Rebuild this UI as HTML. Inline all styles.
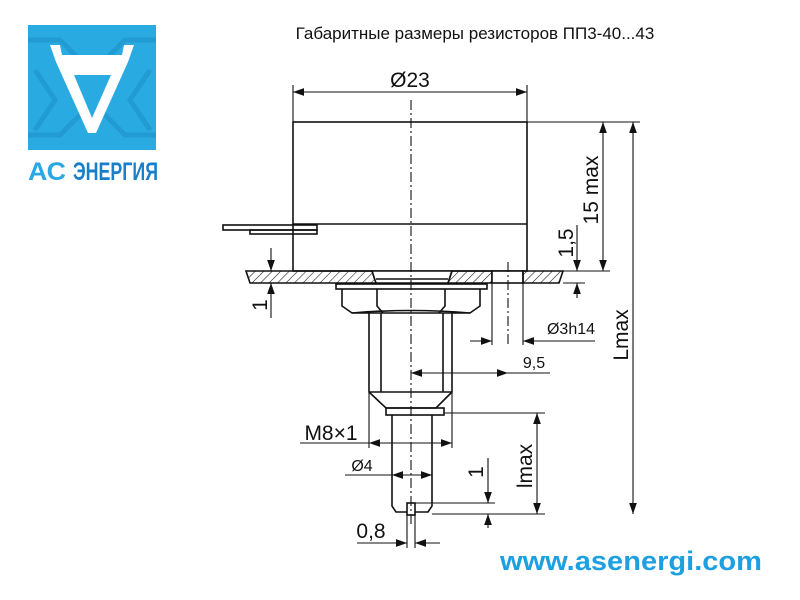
<!DOCTYPE html>
<html><head><meta charset="utf-8"><style>
html,body{margin:0;padding:0;background:#fff;}
svg{display:block}
text{font-family:"Liberation Sans",sans-serif;fill:#111}
</style></head><body>
<svg width="800" height="600" viewBox="0 0 800 600" xmlns="http://www.w3.org/2000/svg">
<defs>
<pattern id="h" width="6" height="6" patternUnits="userSpaceOnUse" patternTransform="rotate(45)">
<line x1="0" y1="0" x2="0" y2="6" stroke="#111" stroke-width="1.1"/>
</pattern>
<marker id="a" viewBox="0 0 10 10" refX="10" refY="5" markerWidth="11" markerHeight="11" orient="auto-start-reverse" markerUnits="userSpaceOnUse">
<path d="M0,1.5 L10,5 L0,8.5 z" fill="#111"/>
</marker>
</defs>
<!-- title -->
<text x="475" y="39" font-size="17" text-anchor="middle">Габаритные размеры резисторов ПП3-40...43</text>
<!-- logo -->
<rect x="28" y="25" width="128" height="125" fill="#29abe2"/>
<g stroke="#1e90c8" stroke-width="5" fill="none" opacity="0.6">
<path d="M28,40 L60,40 L80,60 L105,60 L125,40 L156,40"/>
<path d="M28,135 L60,135 L80,115 L105,115 L125,135 L156,135"/>
<path d="M35,70 L55,100 L35,130"/><path d="M150,70 L130,100 L150,130"/>
</g>
<path d="M50,45 L60,45 L62,55 L122,55 L124,45 L134,45 L128,62 L96,133 L88,133 L56,62 Z" fill="#fff"/>
<path d="M74,75 L111,75 L92,118 Z" fill="#29abe2"/>
<text x="28" y="180" font-size="25" font-weight="bold" style="fill:#2aa8e6" textLength="38" lengthAdjust="spacingAndGlyphs">АС</text>
<text x="73" y="180" font-size="25" font-weight="bold" style="fill:#1a7fc8" textLength="85" lengthAdjust="spacingAndGlyphs">ЭНЕРГИЯ</text>
<!-- website -->
<text x="631" y="570" font-size="27" font-weight="bold" text-anchor="middle" style="fill:#1ea0e0" textLength="262" lengthAdjust="spacingAndGlyphs">www.asenergi.com</text>

<g stroke="#111" stroke-width="1.6" fill="none">
<rect x="293" y="122" width="234" height="149"/>
<line x1="293" y1="224" x2="527" y2="224"/>
<rect x="223" y="225" width="94" height="5"/>
<rect x="250" y="230" width="67" height="4"/>
<path d="M246,271 L372,271 L376,283 L250,283 Z" fill="url(#h)"/>
<path d="M376,283 L372,271 L452,271 L448,283 Z" fill="#fff"/>
<path d="M452,271 L492,271 L492,283 L448,283 Z" fill="url(#h)"/>
<rect x="492" y="271" width="31" height="12" fill="#fff"/>
<path d="M523,271 L563,271 L559,283 L523,283 Z" fill="url(#h)"/>
<line x1="376" y1="279" x2="448" y2="279"/>
<rect x="336" y="284" width="151" height="5"/>
<path d="M342,289 L342,306 L352,313 L470,313 L480,306 L480,289"/>
<path d="M377,289 L377,306 L383,313 M445,289 L445,306 L439,313"/>
<path d="M352,313 Q411,308 470,313"/>
<path d="M369,313 L369,392 L386,408 L436,408 L452,392 L452,313"/>
<line x1="381" y1="313" x2="381" y2="392"/><line x1="443" y1="313" x2="443" y2="392"/>
<line x1="369" y1="392" x2="452" y2="392"/>
<rect x="386" y="408" width="58" height="7"/>
<path d="M392,415 L392,506 L396,512 L428,512 L432,506 L432,415"/>
<rect x="407" y="503" width="8" height="12" fill="#fff"/>
</g>
<g stroke="#111" stroke-width="1.1" stroke-dasharray="10,3,2,3">
<line x1="411" y1="100" x2="411" y2="525"/>
<line x1="508" y1="262" x2="508" y2="345"/>
</g>
<g stroke="#111" stroke-width="1.1" fill="none">
<line x1="293" y1="85" x2="293" y2="122"/><line x1="527" y1="85" x2="527" y2="122"/>
<line x1="293" y1="92" x2="527" y2="92" marker-start="url(#a)" marker-end="url(#a)"/>
<line x1="527" y1="122" x2="640" y2="122"/>
<line x1="527" y1="271" x2="610" y2="271"/>
<line x1="563" y1="283" x2="585" y2="283"/>
<line x1="603" y1="122" x2="603" y2="271" marker-start="url(#a)" marker-end="url(#a)"/>
<line x1="633" y1="122" x2="633" y2="514" marker-start="url(#a)" marker-end="url(#a)"/>
<line x1="577" y1="225" x2="577" y2="271" marker-end="url(#a)"/>
<line x1="577" y1="298" x2="577" y2="283" marker-end="url(#a)"/>
<line x1="271" y1="248" x2="271" y2="271" marker-end="url(#a)"/>
<line x1="271" y1="318" x2="271" y2="283" marker-end="url(#a)"/>
<line x1="492" y1="283" x2="492" y2="345"/><line x1="523" y1="283" x2="523" y2="345"/>
<line x1="470" y1="341" x2="492" y2="341" marker-end="url(#a)"/>
<line x1="595" y1="341" x2="523" y2="341" marker-end="url(#a)"/>
<line x1="411" y1="373" x2="508" y2="373" marker-start="url(#a)" marker-end="url(#a)"/>
<line x1="508" y1="373" x2="550" y2="373"/>
<line x1="369" y1="392" x2="369" y2="448"/><line x1="452" y1="392" x2="452" y2="448"/>
<line x1="369" y1="443" x2="452" y2="443" marker-start="url(#a)" marker-end="url(#a)"/>
<line x1="300" y1="443" x2="369" y2="443"/>
<line x1="444" y1="413" x2="545" y2="413"/>
<line x1="432" y1="514" x2="545" y2="514"/>
<line x1="537" y1="413" x2="537" y2="514" marker-start="url(#a)" marker-end="url(#a)"/>
<line x1="345" y1="475" x2="392" y2="475"/>
<line x1="392" y1="475" x2="432" y2="475" marker-start="url(#a)" marker-end="url(#a)"/>
<line x1="415" y1="503" x2="495" y2="503"/>
<line x1="488" y1="458" x2="488" y2="503" marker-end="url(#a)"/>
<line x1="488" y1="528" x2="488" y2="514" marker-end="url(#a)"/>
<line x1="407" y1="515" x2="407" y2="548"/><line x1="415" y1="515" x2="415" y2="548"/>
<line x1="357" y1="543" x2="407" y2="543" marker-end="url(#a)"/>
<line x1="440" y1="543" x2="415" y2="543" marker-end="url(#a)"/>
</g>
<text x="410" y="87" font-size="21" text-anchor="middle">Ø23</text>
<text transform="translate(598,190) rotate(-90)" font-size="21" text-anchor="middle">15 max</text>
<text transform="translate(573,243) rotate(-90)" font-size="21" text-anchor="middle">1,5</text>
<text transform="translate(267,305) rotate(-90)" font-size="21" text-anchor="middle">1</text>
<text transform="translate(628,335) rotate(-90)" font-size="21" text-anchor="middle">Lmax</text>
<text x="571" y="334" font-size="16" text-anchor="middle">Ø3h14</text>
<text x="534" y="368" font-size="16" text-anchor="middle">9,5</text>
<text x="331" y="440" font-size="21" text-anchor="middle">M8×1</text>
<text x="362" y="471" font-size="16" text-anchor="middle">Ø4</text>
<text transform="translate(532,466) rotate(-90)" font-size="21" text-anchor="middle">lmax</text>
<text transform="translate(483,472) rotate(-90)" font-size="21" text-anchor="middle">1</text>
<text x="371" y="538" font-size="21" text-anchor="middle">0,8</text>
</svg>
</body></html>
